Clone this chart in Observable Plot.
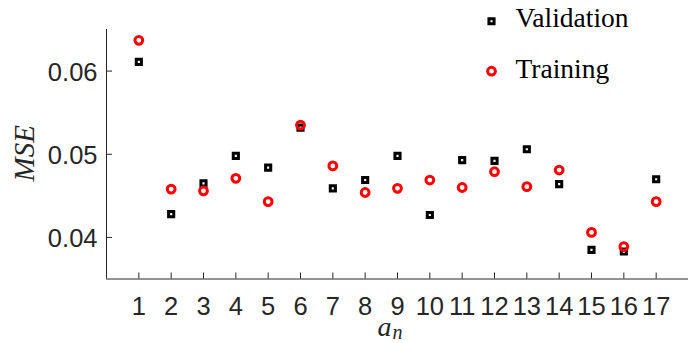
<!DOCTYPE html>
<html>
<head>
<meta charset="utf-8">
<script src="https://cdn.jsdelivr.net/npm/d3@7"></script>
<script src="https://cdn.jsdelivr.net/npm/@observablehq/plot@0.6"></script>
<style>
  html, body { margin: 0; padding: 0; background: #fff; }
</style>
</head>
<body>
<div id="chart"></div>
<script>
const categories = [1, 2, 3, 4, 5, 6, 7, 8, 9, 10, 11, 12, 13, 14, 15, 16, 17];
const validation = [0.0611, 0.0428, 0.0465, 0.0498, 0.0484, 0.0532, 0.0459, 0.0469, 0.0498, 0.0427, 0.0493, 0.0492, 0.0506, 0.0464, 0.0385, 0.0383, 0.0470];
const training   = [0.0637, 0.0458, 0.0456, 0.0471, 0.0443, 0.0535, 0.0486, 0.0454, 0.0459, 0.0469, 0.0460, 0.0479, 0.0461, 0.0481, 0.0406, 0.0389, 0.0443];
const yTicks = [0.04, 0.05, 0.06];
const seriesNames = ["Validation", "Training"];

const W = 691, H = 343, mL = 106, mR = 3, mT = 29, mB = 64.5;
const frameW = W - mL - mR, frameH = H - mT - mB;
const axisColor = "#262626";

const chart = Plot.plot({
  width: W, height: H,
  marginLeft: mL, marginRight: mR, marginTop: mT, marginBottom: mB,
  style: { fontFamily: "'Liberation Sans', Arial, sans-serif", fontSize: "25.5px", color: axisColor, background: "white" },
  x: { domain: [0, 18], axis: null },
  y: { domain: [0.035, 0.065] },
  marks: [
    Plot.text(categories, { x: d => d, text: d => String(d), frameAnchor: "bottom", lineAnchor: "top", dy: 17.5, fontSize: 25.5, fill: axisColor }),
    Plot.axisY(yTicks, { tickSize: 0, tickPadding: 9, dy: 1.5, tickFormat: d3.format(".2f"), fontSize: 25.5, label: null }),
    Plot.tickX(categories, { x: d => d, insetTop: frameH - 6, stroke: axisColor, strokeWidth: 1 }),
    Plot.tickY(yTicks, { y: d => d, insetRight: frameW - 6, stroke: axisColor, strokeWidth: 1 }),
    Plot.ruleX([0], { stroke: axisColor, strokeWidth: 1 }),
    Plot.ruleY([0.035], { stroke: axisColor, strokeWidth: 1 }),
    Plot.dot(categories, { x: d => d, y: (d, i) => validation[i], symbol: "square", r: 2.9, stroke: "black", strokeWidth: 3, fill: "white" }),
    Plot.dot(categories, { x: d => d, y: (d, i) => training[i], symbol: "circle", r: 3.9, stroke: "#ff0000", strokeWidth: 3, fill: "none" }),
    // legend
    Plot.dot([seriesNames[0]], { frameAnchor: "top-left", dx: 385, dy: -8.3, symbol: "square", r: 2.9, stroke: "black", strokeWidth: 3, fill: "white" }),
    Plot.dot([seriesNames[1]], { frameAnchor: "top-left", dx: 385, dy: 41.7, symbol: "circle", r: 3.9, stroke: "#ff0000", strokeWidth: 3, fill: "none" }),
    Plot.text([seriesNames[0]], { text: d => d, frameAnchor: "top-left", textAnchor: "start", lineAnchor: "bottom", dx: 409, dy: -2.3, fontFamily: "'Liberation Serif', serif", fontSize: 27.5, fill: "black" }),
    Plot.text([seriesNames[1]], { text: d => d, frameAnchor: "top-left", textAnchor: "start", lineAnchor: "bottom", dx: 409, dy: 48.3, fontFamily: "'Liberation Serif', serif", fontSize: 27.5, fill: "black" }),
    // axis labels
    Plot.text(["MSE"], { text: d => d, frameAnchor: "left", rotate: -90, textAnchor: "middle", lineAnchor: "bottom", dx: -73, dy: -1, fontFamily: "'Liberation Serif', serif", fontStyle: "italic", fontSize: 29, letterSpacing: "6px", fill: axisColor }),
    Plot.text(["a"], { text: d => d, frameAnchor: "bottom", textAnchor: "start", lineAnchor: "bottom", dx: -20, dy: 56.5, fontFamily: "'Liberation Serif', serif", fontStyle: "italic", fontSize: 28, fill: axisColor }),
    Plot.text(["n"], { text: d => d, frameAnchor: "bottom", textAnchor: "start", lineAnchor: "bottom", dx: -5, dy: 60, fontFamily: "'Liberation Serif', serif", fontStyle: "italic", fontSize: 20, fill: axisColor })
  ]
});
document.getElementById("chart").appendChild(chart);
</script>
</body>
</html>
